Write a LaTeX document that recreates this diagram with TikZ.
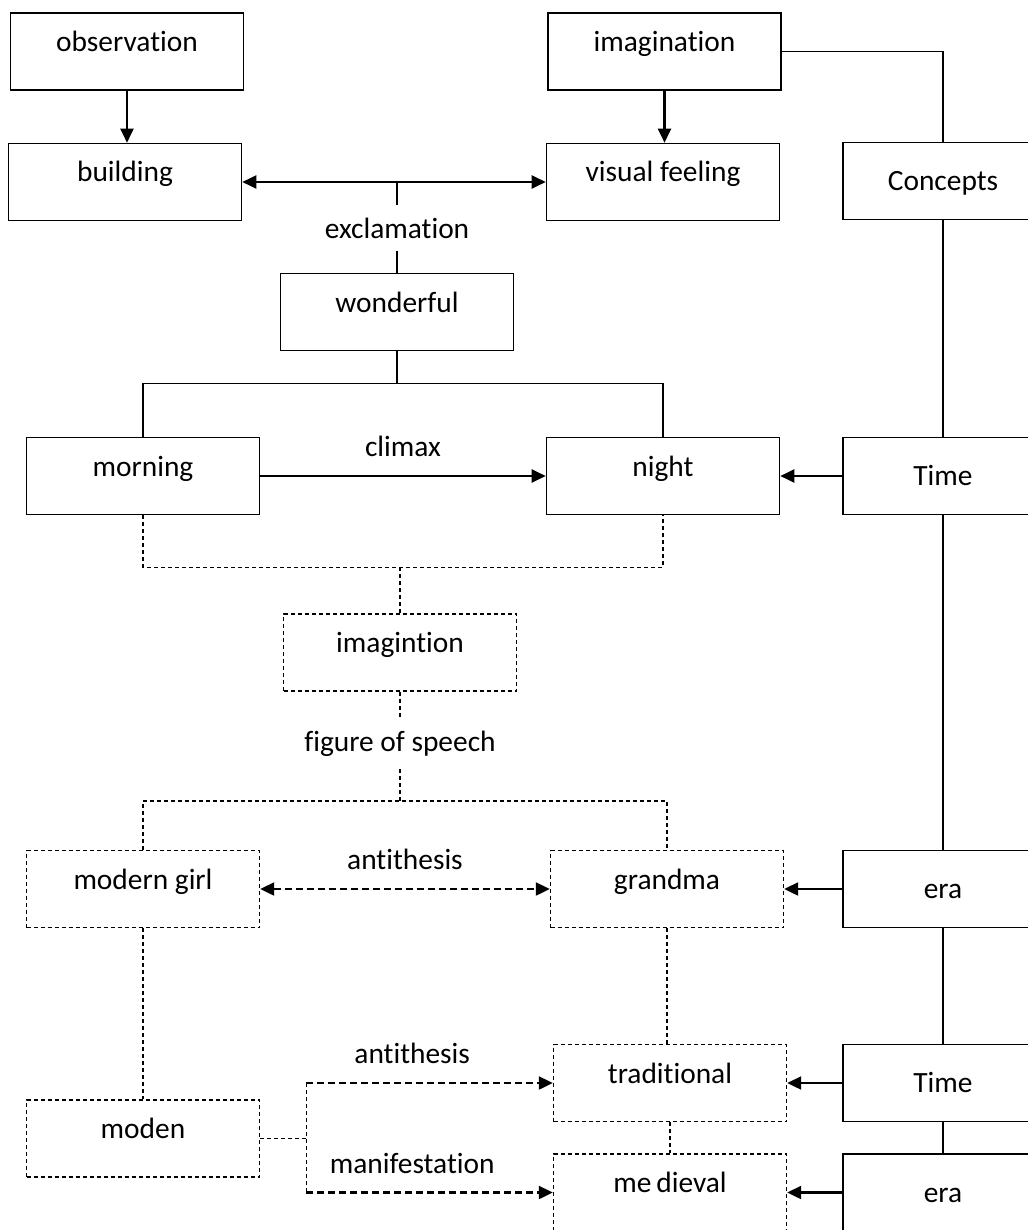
\documentclass[tikz,border=0pt]{standalone}
\usepackage{fontspec}
\setmainfont{Carlito}[Ligatures={NoCommon,NoContextual},RawFeature=-calt]
\usetikzlibrary{arrows.meta,calc,positioning}

\begin{document}
\begin{tikzpicture}[
    x=0.5pt, y=-0.5pt,
    font=\fontsize{14.7}{17}\selectfont,
    >={Triangle[length=7pt,width=6.5pt]},
    block/.style={rectangle,draw,line width=0.8pt,minimum width=116.5pt,minimum height=38.5pt,text height=6pt,text depth=6pt},
    dblock/.style={block,line width=0.7pt,dash pattern=on 2pt off 1.5pt},
    sideblock/.style={rectangle,draw,line width=0.8pt,minimum width=100pt,minimum height=38.5pt,text height=9.5pt,text depth=0pt},
    tag/.style={inner xsep=4pt,inner ysep=6pt},
    over/.style={above,inner sep=9pt},
    connector/.style={->,line width=1.1pt},
    dconnector/.style={connector,dash pattern=on 3.5pt off 2pt},
    line/.style={line width=0.7pt},
    dline/.style={line,dash pattern=on 2pt off 1.5pt}]
    \useasboundingbox (0,0) rectangle (1027,1230);

    % First row
    \node (observation) [block] at (127,51.5) {observation};
    \node (imagination) [block] at (664.5,51.5) {imagination};
    % Second row
    \node (building) [block] at (125,182) {building};
    \node (visual) [block] at (663,182) {visual feeling};
    \node (concepts) [sideblock] at (943,181) {Concepts};
    \node (exclamation) [tag] at (397,228) {exclamation};
    \node (wonderful) [block] at (397,312) {wonderful};
    % Third row
    \node (morning) [block] at (143,476) {morning};
    \node (night) [block] at (663,476) {night};
    \node (time_a) [sideblock] at (943,476) {Time};
    \node (imagintion) [dblock] at (400,652.5) {imagintion};
    \node (speech) [tag,inner ysep=6pt] at (400,744) {figure of speech};
    % Fourth row
    \node (modern_girl) [dblock] at (143,889) {modern girl};
    \node (grandma) [dblock] at (667,889) {grandma};
    \node (era_a) [sideblock] at (943,889) {era};
    % Last rows, cut off by the page
    \node (traditional) [dblock] at (670,1083) {traditional};
    \node (time_b) [sideblock] at (943,1083) {Time};
    \node (moden) [dblock] at (143,1138.5) {moden};
    \node (medieval) [dblock] at (670,1192.5) {me\,dieval};
    \node (era_b) [sideblock] at (943,1192.5) {era};

    \draw[connector] (observation.south) -- (observation.south |- building.north);
    \draw[connector] (imagination.south) -- (imagination.south |- visual.north);
    \draw[connector,<->] (building.east) -- (visual.west);
    \draw[line] (exclamation.north |- building.east) -- (exclamation.north);
    \draw[line] (exclamation.south) -- (wonderful.north);

    \coordinate (fork_a) at ($(wonderful.south)+(0,32)$);
    \draw[line] (wonderful.south) -- (fork_a);
    \draw[line] (morning.north) |- (fork_a) -| (night.north);
    \draw[connector] (morning.east) -- node[over] {climax} (night.west);
    \draw[connector] (time_a.west) -- (night.east);

    % Right column
    \draw[line] (imagination.east) -| (concepts.north);
    \draw[line] (concepts.south) -- (time_a.north);
    \draw[line] (time_a.south) -- (era_a.north);
    \draw[line] (era_a.south) -- (time_b.north);
    \draw[line] (time_b.south) -- (era_b.north);

    \coordinate (fork_b) at ($(imagintion.north)+(0,-46)$);
    \draw[dline] (morning.south) |- (fork_b) -| (night.south);
    \draw[dline] (fork_b) -- (imagintion.north);
    \draw[dline] (imagintion.south) -- (speech.north);
    \coordinate (fork_c) at ($(modern_girl.north -| speech)+(0,-49)$);
    \draw[dline] (speech.south) -- (fork_c);
    \draw[dline] (modern_girl.north) |- (fork_c) -| (grandma.north);
    \draw[dconnector,<->] (modern_girl.east) -- node[over] {antithesis} (grandma.west);
    \draw[connector] (era_a.west) -- (grandma.east);

    \draw[dline] (modern_girl.south) -- (moden.north);
    \draw[dline] (grandma.south) -- (grandma.south |- traditional.north);
    \draw[dline] (traditional.south) -- (medieval.north);
    \coordinate (branch) at ($(moden.east)+(46,0)$);
    \draw[dline] (moden.east) -- (branch);
    \draw[dline] (branch |- traditional.west) -- (branch |- medieval.west);
    \draw[dconnector] (branch |- traditional.west) -- node[over,pos=0.43] {antithesis} (traditional.west);
    \draw[dconnector] (branch |- medieval.west) -- node[over,pos=0.43] {manifestation} (medieval.west);
    \draw[connector] (time_b.west) -- (traditional.east);
    \draw[connector] (era_b.west) -- (medieval.east);

  \end{tikzpicture}
\end{document}
